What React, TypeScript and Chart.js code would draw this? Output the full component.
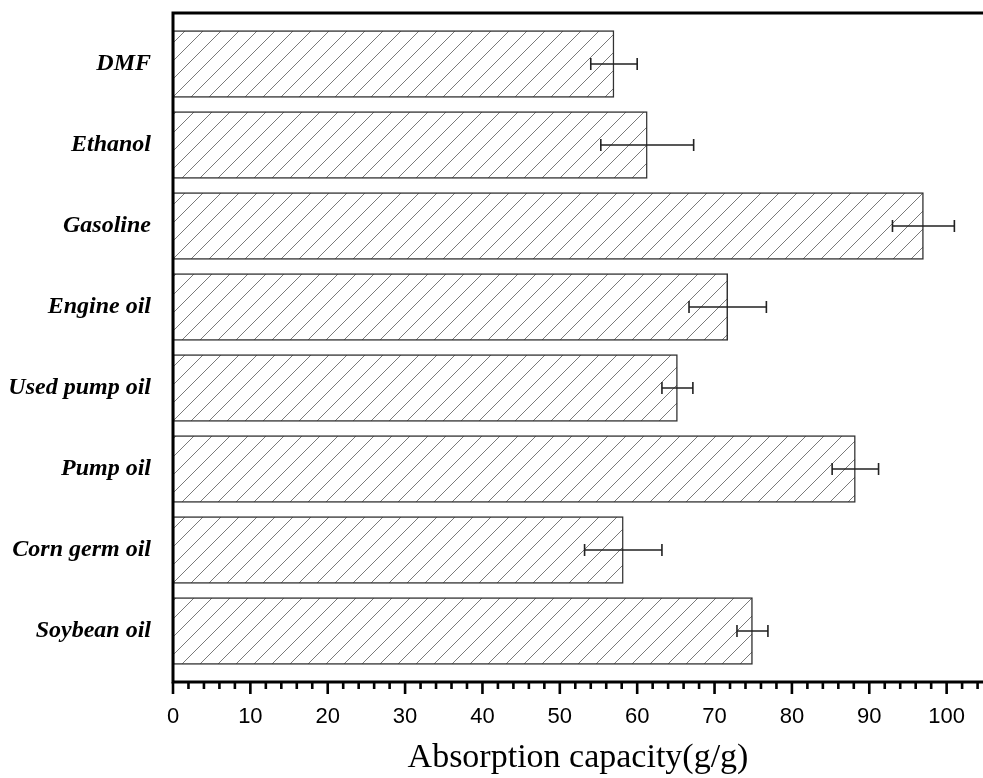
import React, { useEffect, useRef } from "react";
import { Chart, registerables } from "chart.js";

Chart.register(...registerables);

const categories = [
  "DMF",
  "Ethanol",
  "Gasoline",
  "Engine oil",
  "Used pump oil",
  "Pump oil",
  "Corn germ oil",
  "Soybean oil",
];
const values = [57, 61.3, 97, 71.7, 65.2, 88.2, 58.2, 74.9];
const errors = [3, 6, 4, 5, 2, 3, 5, 2];
const xMajorTicks = [0, 10, 20, 30, 40, 50, 60, 70, 80, 90, 100];
const xMinorStep = 2;
const xMax = 104.7;
const xTitle = "Absorption capacity(g/g)";

function makeHatch(): CanvasPattern | string {
  const s = 18;
  const c = document.createElement("canvas");
  c.width = s;
  c.height = s;
  const g = c.getContext("2d");
  if (!g) return "#fff";
  g.fillStyle = "#ffffff";
  g.fillRect(0, 0, s, s);
  g.strokeStyle = "#7a7a7a";
  g.lineWidth = 1;
  g.beginPath();
  g.moveTo(0, s);
  g.lineTo(s, 0);
  g.moveTo(-s / 2, s / 2);
  g.lineTo(s / 2, -s / 2);
  g.moveTo(s / 2, s + s / 2);
  g.lineTo(s + s / 2, s / 2);
  g.stroke();
  const p = g.createPattern(c, "repeat");
  return p || "#fff";
}

const framePlugin = {
  id: "framePlugin",
  afterDatasetsDraw(chart: any) {
    const { ctx, scales } = chart;
    const xs = scales.x;
    const ys = scales.y;
    ctx.save();
    ctx.strokeStyle = "#222";
    ctx.lineWidth = 1.6;
    values.forEach((v, i) => {
      const y = ys.getPixelForValue(i);
      const lo = xs.getPixelForValue(v - errors[i]);
      const hi = xs.getPixelForValue(v + errors[i]);
      ctx.beginPath();
      ctx.moveTo(lo, y);
      ctx.lineTo(hi, y);
      ctx.moveTo(lo, y - 6);
      ctx.lineTo(lo, y + 6);
      ctx.moveTo(hi, y - 6);
      ctx.lineTo(hi, y + 6);
      ctx.stroke();
    });
    ctx.restore();
  },
  afterDraw(chart: any) {
    const { ctx, chartArea: ca, scales } = chart;
    const xs = scales.x;
    ctx.save();
    ctx.strokeStyle = "#000";
    ctx.lineWidth = 3;
    ctx.beginPath();
    ctx.moveTo(ca.left - 1.5, ca.top);
    ctx.lineTo(ca.right, ca.top);
    ctx.moveTo(ca.left, ca.top);
    ctx.lineTo(ca.left, ca.bottom);
    ctx.moveTo(ca.left - 1.5, ca.bottom);
    ctx.lineTo(ca.right, ca.bottom);
    ctx.stroke();
    ctx.lineWidth = 2.6;
    ctx.beginPath();
    for (let v = 0; v <= xMax; v += xMinorStep) {
      const x = xs.getPixelForValue(v);
      const major = xMajorTicks.includes(v);
      ctx.moveTo(x, ca.bottom);
      ctx.lineTo(x, ca.bottom + (major ? 12 : 7));
    }
    ctx.stroke();
    ctx.restore();
  },
};

export default function App() {
  const ref = useRef<HTMLCanvasElement | null>(null);

  useEffect(() => {
    if (!ref.current) return;
    const hatch = makeHatch();
    const chart = new Chart(ref.current, {
      type: "bar",
      data: {
        datasets: [
          {
            data: values.map((v, i) => ({ x: v, y: i })) as any,
            backgroundColor: hatch as any,
            borderColor: "#333",
            borderWidth: 1.5,
            borderSkipped: false,
            barThickness: 67,
          },
        ],
      },
      options: {
        indexAxis: "y",
        responsive: false,
        animation: false,
        devicePixelRatio: 1,
        layout: { padding: { top: 13, right: 0, left: 0, bottom: 0 } },
        plugins: {
          legend: { display: false },
          tooltip: { enabled: false },
        },
        scales: {
          x: {
            type: "linear",
            min: 0,
            max: xMax,
            grid: { display: false },
            border: { display: false },
            afterBuildTicks: (scale: any) => {
              scale.ticks = xMajorTicks.map((v) => ({ value: v }));
            },
            afterFit: (scale: any) => {
              scale.height = 96;
              scale.paddingLeft = 0;
              scale.paddingRight = 0;
            },
            ticks: {
              autoSkip: false,
              maxRotation: 0,
              padding: 14,
              color: "#000",
              font: { family: "'Liberation Sans', Arial, sans-serif", size: 22 },
            },
            title: {
              display: true,
              text: xTitle,
              color: "#000",
              padding: { top: 0, bottom: 0 },
              font: { family: "'Liberation Serif', 'Times New Roman', serif", size: 34 },
            },
          },
          y: {
            type: "linear",
            min: -0.63,
            max: 7.63,
            reverse: true,
            offset: false,
            grid: { display: false, offset: false },
            border: { display: false },
            afterBuildTicks: (scale: any) => {
              scale.ticks = categories.map((_, i) => ({ value: i }));
            },
            afterFit: (scale: any) => {
              scale.width = 173;
              scale.paddingTop = 0;
              scale.paddingBottom = 0;
            },
            ticks: {
              autoSkip: false,
              padding: 14,
              color: "#000",
              callback: (v: any) => categories[Number(v)] ?? "",
              font: {
                family: "'Liberation Serif', 'Times New Roman', serif",
                size: 24,
                style: "italic",
                weight: "bold",
              },
            },
          },
        },
      },
      plugins: [framePlugin],
    } as any);
    return () => chart.destroy();
  }, []);

  return (
    <div style={{ position: "absolute", left: 0, top: 0, width: 983, height: 778, background: "#fff" }}>
      <canvas ref={ref} width={983} height={778} />
    </div>
  );
}
